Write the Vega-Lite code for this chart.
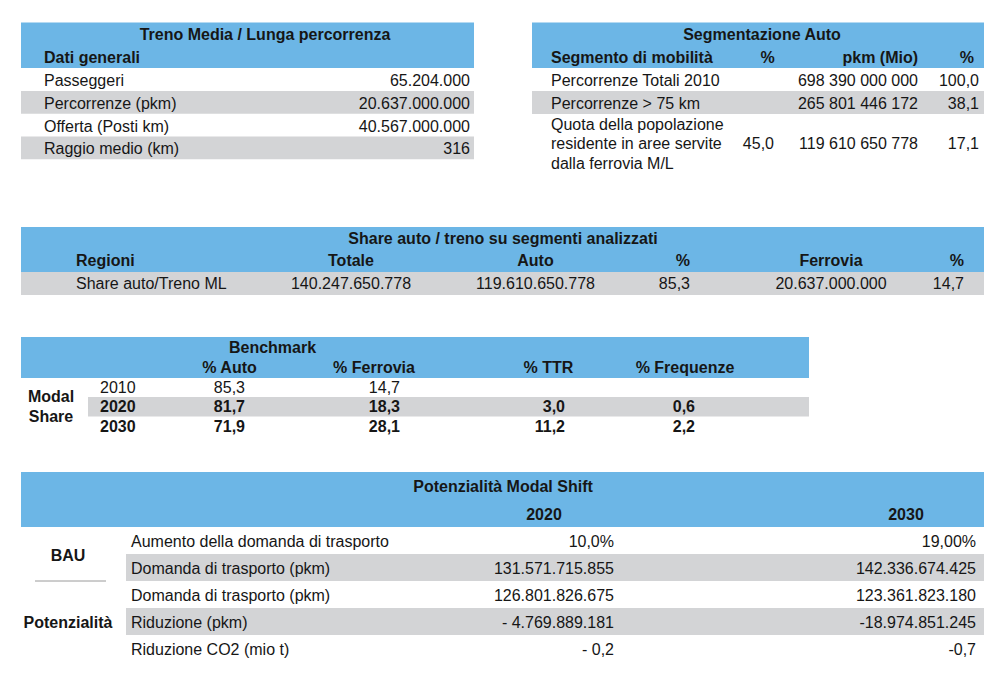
{
  "$schema": "https://vega.github.io/schema/vega-lite/v6.json",
  "width": 1003,
  "height": 680,
  "autosize": {"type": "fit", "contains": "padding"},
  "padding": 0,
  "background": "#ffffff",
  "config": {
    "view": {"stroke": null},
    "text": {"font": "Liberation Sans", "fontSize": 16, "baseline": "middle", "color": "#161616"}
  },
  "datasets": {
    "t1": [
      {"band": "header", "c": 0, "c2": 4, "r": 0, "r2": 2},
      {"band": "stripe", "c": 0, "c2": 4, "r": 3, "r2": 4},
      {"band": "stripe", "c": 0, "c2": 4, "r": 5, "r2": 6},
      {"text": "Treno Media / Lunga percorrenza", "kind": "head", "c": 2, "r": 0.5},
      {"text": "Dati generali", "kind": "head", "c": 1, "r": 1.5},
      {"text": "Passeggeri", "kind": "body", "c": 1, "r": 2.5},
      {"text": "65.204.000", "kind": "body", "c": 3, "r": 2.5},
      {"text": "Percorrenze (pkm)", "kind": "body", "c": 1, "r": 3.5},
      {"text": "20.637.000.000", "kind": "body", "c": 3, "r": 3.5},
      {"text": "Offerta (Posti km)", "kind": "body", "c": 1, "r": 4.5},
      {"text": "40.567.000.000", "kind": "body", "c": 3, "r": 4.5},
      {"text": "Raggio medio (km)", "kind": "body", "c": 1, "r": 5.5},
      {"text": "316", "kind": "body", "c": 3, "r": 5.5}
    ],
    "t2": [
      {"band": "header", "c": 0, "c2": 8, "r": 0, "r2": 2},
      {"band": "stripe", "c": 0, "c2": 8, "r": 3, "r2": 4},
      {"text": "Segmentazione Auto", "kind": "head", "c": 2, "r": 0.5},
      {"text": "Segmento di mobilità", "kind": "head", "c": 1, "r": 1.5},
      {"text": "%", "kind": "head", "c": 3, "r": 1.5},
      {"text": "pkm (Mio)", "kind": "head", "c": 5, "r": 1.5},
      {"text": "%", "kind": "head", "c": 6, "r": 1.5},
      {"text": "Percorrenze Totali 2010", "kind": "body", "c": 1, "r": 2.5},
      {"text": "698 390 000 000", "kind": "body", "c": 5, "r": 2.5},
      {"text": "100,0", "kind": "body", "c": 7, "r": 2.5},
      {"text": "Percorrenze > 75 km", "kind": "body", "c": 1, "r": 3.5},
      {"text": "265 801 446 172", "kind": "body", "c": 5, "r": 3.5},
      {"text": "38,1", "kind": "body", "c": 7, "r": 3.5},
      {"text": "Quota della popolazione\nresidente in aree servite\ndalla ferrovia M/L", "kind": "body", "c": 1, "r": 4.5},
      {"text": "45,0", "kind": "body", "c": 4, "r": 4.5},
      {"text": "119 610 650 778", "kind": "body", "c": 5, "r": 4.5},
      {"text": "17,1", "kind": "body", "c": 7, "r": 4.5}
    ],
    "t3": [
      {"band": "header", "c": 0, "c2": 8, "r": 0, "r2": 2},
      {"band": "stripe", "c": 0, "c2": 8, "r": 2, "r2": 3},
      {"text": "Share auto / treno su segmenti analizzati", "kind": "head", "c": 3, "r": 0.5},
      {"text": "Regioni", "kind": "head", "c": 1, "r": 1.5},
      {"text": "Totale", "kind": "head", "c": 2, "r": 1.5},
      {"text": "Auto", "kind": "head", "c": 4, "r": 1.5},
      {"text": "%", "kind": "head", "c": 5, "r": 1.5},
      {"text": "Ferrovia", "kind": "head", "c": 6, "r": 1.5},
      {"text": "%", "kind": "head", "c": 7, "r": 1.5},
      {"text": "Share auto/Treno ML", "kind": "body", "c": 1, "r": 2.5},
      {"text": "140.247.650.778", "kind": "body", "c": 2, "r": 2.5},
      {"text": "119.610.650.778", "kind": "body", "c": 4, "r": 2.5},
      {"text": "85,3", "kind": "body", "c": 5, "r": 2.5},
      {"text": "20.637.000.000", "kind": "body", "c": 6, "r": 2.5},
      {"text": "14,7", "kind": "body", "c": 7, "r": 2.5}
    ],
    "t4": [
      {"band": "header", "c": 0, "c2": 13, "r": 0, "r2": 2},
      {"band": "stripe", "c": 2, "c2": 13, "r": 3, "r2": 4},
      {"text": "Benchmark", "kind": "head", "c": 6, "r": 0.5},
      {"text": "% Auto", "kind": "head", "c": 4, "r": 1.5},
      {"text": "% Ferrovia", "kind": "head", "c": 7, "r": 1.5},
      {"text": "% TTR", "kind": "head", "c": 9, "r": 1.5},
      {"text": "% Frequenze", "kind": "head", "c": 11, "r": 1.5},
      {"text": "Modal\nShare", "kind": "head", "c": 1, "r": 3.5},
      {"text": "2010", "kind": "body", "c": 3, "r": 2.5},
      {"text": "85,3", "kind": "body", "c": 5, "r": 2.5},
      {"text": "14,7", "kind": "body", "c": 8, "r": 2.5},
      {"text": "2020", "kind": "strong", "c": 3, "r": 3.5},
      {"text": "81,7", "kind": "strong", "c": 5, "r": 3.5},
      {"text": "18,3", "kind": "strong", "c": 8, "r": 3.5},
      {"text": "3,0", "kind": "strong", "c": 10, "r": 3.5},
      {"text": "0,6", "kind": "strong", "c": 12, "r": 3.5},
      {"text": "2030", "kind": "strong", "c": 3, "r": 4.5},
      {"text": "71,9", "kind": "strong", "c": 5, "r": 4.5},
      {"text": "28,1", "kind": "strong", "c": 8, "r": 4.5},
      {"text": "11,2", "kind": "strong", "c": 10, "r": 4.5},
      {"text": "2,2", "kind": "strong", "c": 12, "r": 4.5}
    ],
    "t5": [
      {"band": "header", "c": 0, "c2": 11, "r": 0, "r2": 2},
      {"band": "stripe", "c": 4, "c2": 11, "r": 3, "r2": 4},
      {"band": "stripe", "c": 4, "c2": 11, "r": 5, "r2": 6},
      {"line": "divider", "c": 1, "c2": 3, "r": 4},
      {"text": "Potenzialità Modal Shift", "kind": "head", "c": 6, "r": 0.5},
      {"text": "2020", "kind": "head", "c": 7, "r": 1.5},
      {"text": "2030", "kind": "head", "c": 9, "r": 1.5},
      {"text": "BAU", "kind": "head", "c": 2, "r": 3},
      {"text": "Potenzialità", "kind": "head", "c": 2, "r": 5.5},
      {"text": "Aumento della domanda di trasporto", "kind": "body", "c": 5, "r": 2.5},
      {"text": "10,0%", "kind": "body", "c": 8, "r": 2.5},
      {"text": "19,00%", "kind": "body", "c": 10, "r": 2.5},
      {"text": "Domanda di trasporto (pkm)", "kind": "body", "c": 5, "r": 3.5},
      {"text": "131.571.715.855", "kind": "body", "c": 8, "r": 3.5},
      {"text": "142.336.674.425", "kind": "body", "c": 10, "r": 3.5},
      {"text": "Domanda di trasporto (pkm)", "kind": "body", "c": 5, "r": 4.5},
      {"text": "126.801.826.675", "kind": "body", "c": 8, "r": 4.5},
      {"text": "123.361.823.180", "kind": "body", "c": 10, "r": 4.5},
      {"text": "Riduzione (pkm)", "kind": "body", "c": 5, "r": 5.5},
      {"text": "- 4.769.889.181", "kind": "body", "c": 8, "r": 5.5},
      {"text": "-18.974.851.245", "kind": "body", "c": 10, "r": 5.5},
      {"text": "Riduzione CO2 (mio t)", "kind": "body", "c": 5, "r": 6.5},
      {"text": "- 0,2", "kind": "body", "c": 8, "r": 6.5},
      {"text": "-0,7", "kind": "body", "c": 10, "r": 6.5}
    ]
  },
  "resolve": {"scale": {"x": "independent", "y": "independent"}},
  "layer": [
    {
      "data": {"name": "t1"},
      "encoding": {
        "x": {"field": "c", "type": "quantitative", "axis": null, "scale": {"domain": [0, 1, 2, 3, 4], "range": [21, 44, 265, 470, 474], "nice": false, "zero": false}},
        "y": {"field": "r", "type": "quantitative", "axis": null, "scale": {"domain": [0, 1, 2, 3, 4, 5, 6], "range": [22.5, 45.3, 68, 90.9, 113.7, 136.5, 159.3], "nice": false, "zero": false}}
      },
      "layer": [
        {
          "transform": [{"filter": "isValid(datum.band)"}],
          "mark": {"type": "rect"},
          "encoding": {
            "x2": {"field": "c2"}, "y2": {"field": "r2"},
            "color": {"field": "band", "type": "nominal", "legend": null, "scale": {"domain": ["header", "stripe"], "range": ["#6cb6e6", "#d3d4d6"]}}
          }
        },
        {
          "transform": [{"filter": "isValid(datum.text)"}],
          "mark": {"type": "text", "dy": 1.5, "align": {"expr": "datum.c == 1 ? 'left' : datum.c == 2 ? 'center' : 'right'"}, "fontWeight": {"expr": "datum.kind == 'body' ? 'normal' : 'bold'"}},
          "encoding": {"text": {"field": "text", "type": "nominal"}}
        }
      ]
    },
    {
      "data": {"name": "t2"},
      "encoding": {
        "x": {"field": "c", "type": "quantitative", "axis": null, "scale": {"domain": [0, 1, 2, 3, 4, 5, 6, 7, 8], "range": [532, 551, 762, 767.5, 774, 918, 974, 979, 984], "nice": false, "zero": false}},
        "y": {"field": "r", "type": "quantitative", "axis": null, "scale": {"domain": [0, 1, 2, 3, 4, 5], "range": [22.5, 45.3, 68, 91, 114, 171], "nice": false, "zero": false}}
      },
      "layer": [
        {
          "transform": [{"filter": "isValid(datum.band)"}],
          "mark": {"type": "rect"},
          "encoding": {
            "x2": {"field": "c2"}, "y2": {"field": "r2"},
            "color": {"field": "band", "type": "nominal", "legend": null, "scale": {"domain": ["header", "stripe"], "range": ["#6cb6e6", "#d3d4d6"]}}
          }
        },
        {
          "transform": [{"filter": "isValid(datum.text)"}],
          "mark": {"type": "text", "lineBreak": "\n", "lineHeight": 19.5, "dy": {"expr": "1.5 - (length(split(datum.text, '\\n')) - 1) * 19.5 / 2"}, "align": {"expr": "datum.c == 1 ? 'left' : (datum.c == 2 || datum.c == 3) ? 'center' : 'right'"}, "fontWeight": {"expr": "datum.kind == 'body' ? 'normal' : 'bold'"}},
          "encoding": {"text": {"field": "text", "type": "nominal"}}
        }
      ]
    },
    {
      "data": {"name": "t3"},
      "encoding": {
        "x": {"field": "c", "type": "quantitative", "axis": null, "scale": {"domain": [0, 1, 2, 3, 4, 5, 6, 7, 8], "range": [21, 76, 351, 503, 535.5, 690, 831, 964, 984], "nice": false, "zero": false}},
        "y": {"field": "r", "type": "quantitative", "axis": null, "scale": {"domain": [0, 1, 2, 3], "range": [227, 249.5, 272, 295], "nice": false, "zero": false}}
      },
      "layer": [
        {
          "transform": [{"filter": "isValid(datum.band)"}],
          "mark": {"type": "rect"},
          "encoding": {
            "x2": {"field": "c2"}, "y2": {"field": "r2"},
            "color": {"field": "band", "type": "nominal", "legend": null, "scale": {"domain": ["header", "stripe"], "range": ["#6cb6e6", "#d3d4d6"]}}
          }
        },
        {
          "transform": [{"filter": "isValid(datum.text)"}],
          "mark": {"type": "text", "dy": 0.5, "align": {"expr": "datum.c == 1 ? 'left' : (datum.c == 5 || datum.c == 7) ? 'right' : 'center'"}, "fontWeight": {"expr": "datum.kind == 'body' ? 'normal' : 'bold'"}},
          "encoding": {"text": {"field": "text", "type": "nominal"}}
        }
      ]
    },
    {
      "data": {"name": "t4"},
      "encoding": {
        "x": {"field": "c", "type": "quantitative", "axis": null, "scale": {"domain": [0, 1, 2, 3, 4, 5, 6, 7, 8, 9, 10, 11, 12, 13], "range": [21, 51, 88, 100, 229.5, 245, 272.5, 374, 400, 548.5, 565, 685, 695, 809], "nice": false, "zero": false}},
        "y": {"field": "r", "type": "quantitative", "axis": null, "scale": {"domain": [0, 1, 2, 3, 4, 5], "range": [337, 357.5, 378, 397, 416.5, 436], "nice": false, "zero": false}}
      },
      "layer": [
        {
          "transform": [{"filter": "isValid(datum.band)"}],
          "mark": {"type": "rect"},
          "encoding": {
            "x2": {"field": "c2"}, "y2": {"field": "r2"},
            "color": {"field": "band", "type": "nominal", "legend": null, "scale": {"domain": ["header", "stripe"], "range": ["#6cb6e6", "#d3d4d6"]}}
          }
        },
        {
          "transform": [{"filter": "isValid(datum.text)"}],
          "mark": {"type": "text", "lineBreak": "\n", "lineHeight": 20, "dy": {"expr": "0.5 - (length(split(datum.text, '\\n')) - 1) * 20 / 2"}, "align": {"expr": "datum.c == 3 ? 'left' : (datum.c == 5 || datum.c == 8 || datum.c == 10 || datum.c == 12) ? 'right' : 'center'"}, "fontWeight": {"expr": "datum.kind == 'body' ? 'normal' : 'bold'"}},
          "encoding": {"text": {"field": "text", "type": "nominal"}}
        }
      ]
    },
    {
      "data": {"name": "t5"},
      "encoding": {
        "x": {"field": "c", "type": "quantitative", "axis": null, "scale": {"domain": [0, 1, 2, 3, 4, 5, 6, 7, 8, 9, 10, 11], "range": [21, 35, 68, 106, 126, 131, 503, 544, 614, 906, 976, 984], "nice": false, "zero": false}},
        "y": {"field": "r", "type": "quantitative", "axis": null, "scale": {"domain": [0, 1, 2, 3, 4, 5, 6, 7], "range": [472, 499.5, 527, 554, 581, 608, 635, 662], "nice": false, "zero": false}}
      },
      "layer": [
        {
          "transform": [{"filter": "isValid(datum.band)"}],
          "mark": {"type": "rect"},
          "encoding": {
            "x2": {"field": "c2"}, "y2": {"field": "r2"},
            "color": {"field": "band", "type": "nominal", "legend": null, "scale": {"domain": ["header", "stripe"], "range": ["#6cb6e6", "#d3d4d6"]}}
          }
        },
        {
          "transform": [{"filter": "isValid(datum.line)"}],
          "mark": {"type": "rule", "color": "#9a9a9a", "strokeWidth": 1},
          "encoding": {"x2": {"field": "c2"}}
        },
        {
          "transform": [{"filter": "isValid(datum.text)"}],
          "mark": {"type": "text", "dy": 1.5, "align": {"expr": "datum.c == 5 ? 'left' : (datum.c == 8 || datum.c == 10) ? 'right' : 'center'"}, "fontWeight": {"expr": "datum.kind == 'body' ? 'normal' : 'bold'"}},
          "encoding": {"text": {"field": "text", "type": "nominal"}}
        }
      ]
    }
  ]
}
